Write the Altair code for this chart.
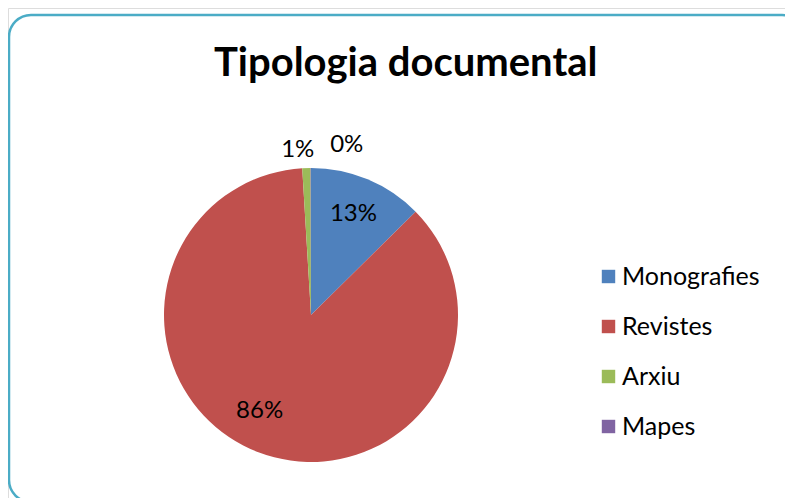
import altair as alt
import pandas as pd

categories = ["Monografies", "Revistes", "Arxiu", "Mapes"]
values = [12.6, 86.45, 0.9, 0.05]
labels = ["13%", "86%", "1%", "0%"]
colors = ["#4F81BD", "#C0504D", "#9BBB59", "#8064A2"]

df = pd.DataFrame({
    "cat": categories,
    "value": values,
    "label": labels,
    "ord": list(range(len(categories))),
})
total = sum(values)

FONT = "Lato"
CX, CY, R = 303, 307, 147

theta_scale = alt.Scale(domain=[0, total])

frame = alt.Chart(df).mark_rect(
    fill=None, stroke="#4BACC6", strokeWidth=2.5, cornerRadius=22
).encode(
    x=alt.value(1), x2=alt.value(796), y=alt.value(7), y2=alt.value(494)
).transform_filter("datum.ord == 0")

pie = alt.Chart(df).mark_arc(radius=R, stroke=None).encode(
    theta=alt.Theta("value:Q", stack=True, scale=theta_scale),
    order=alt.Order("ord:Q"),
    color=alt.Color(
        "cat:N",
        scale=alt.Scale(domain=categories, range=colors),
        sort=categories,
        legend=alt.Legend(
            title=None, orient="none", legendX=588, legendY=256,
            symbolType="square", symbolSize=180, symbolStrokeWidth=0,
            labelFont=FONT, labelFontSize=25, labelColor="#000000",
            labelOffset=1, rowPadding=24, padding=0,
        ),
    ),
    x=alt.value(CX), y=alt.value(CY),
)

base = alt.Chart(df).transform_window(
    cum="sum(value)", sort=[alt.SortField("ord")]
).transform_calculate(mid="datum.cum - datum.value / 2")


def lab(cat, radius, dx=0, dy=0):
    return base.transform_filter(alt.datum.cat == cat).mark_text(
        radius=radius, dx=dx, dy=dy, font=FONT, fontSize=24, color="#000000"
    ).encode(
        theta=alt.Theta("mid:Q", scale=theta_scale),
        text="label:N",
        x=alt.value(CX), y=alt.value(CY),
    )


chart = alt.layer(
    frame, pie,
    lab("Monografies", 110),
    lab("Revistes", 110, -12, -7),
    lab("Arxiu", 167, -8, 2),
    lab("Mapes", 170, 36, 0),
).properties(
    width=777, height=490,
    padding=0,
    autosize=alt.AutoSizeParams(type="none"),
    title=alt.Title(
        "Tipologia documental", font=FONT, fontSize=40, fontWeight="bold",
        color="#000000", anchor="start", frame="group", dx=206, dy=112,
        baseline="alphabetic",
    ),
).configure_view(stroke=None).configure(background="white")

chart.save("out.html", embed_options={"renderer": "svg", "actions": False})
